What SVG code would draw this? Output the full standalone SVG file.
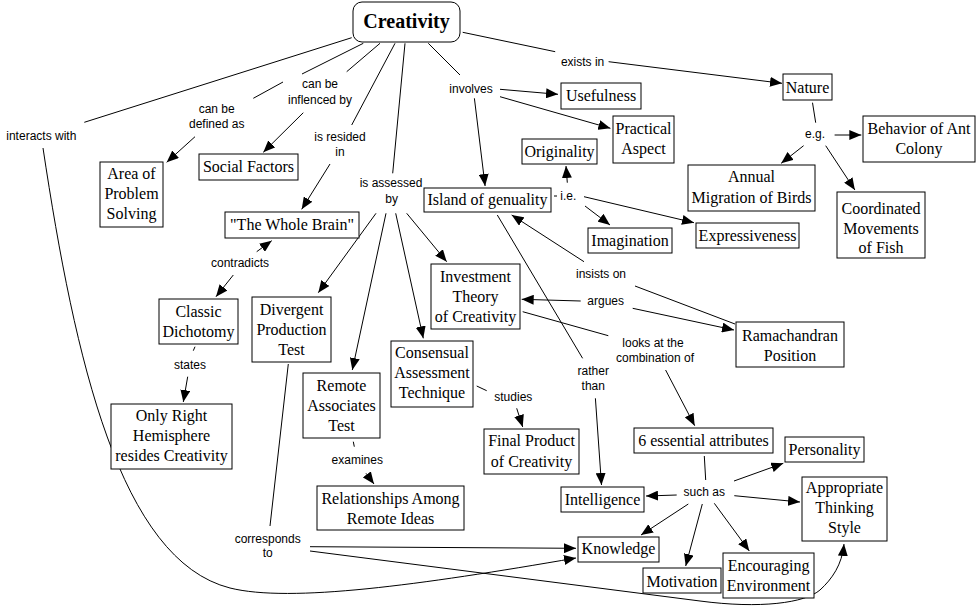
<svg xmlns="http://www.w3.org/2000/svg" width="978" height="608" viewBox="0 0 978 608">
<style>
.n rect{fill:#fff;stroke:#000;stroke-width:1}
.n text{font-family:"Liberation Serif","Times New Roman",serif;font-size:16px;text-anchor:middle;fill:#000}
.l{font-family:"Liberation Sans",Arial,sans-serif;font-size:12px;text-anchor:middle;fill:#000}
#conn path,#conn line{stroke:#000;stroke-width:1;fill:none}
.a{marker-end:url(#ah)}
</style>
<defs>
<marker id="ah" markerUnits="userSpaceOnUse" markerWidth="13" markerHeight="10" refX="12" refY="5" orient="auto">
<path d="M0,0 L12,5 L0,10 z" fill="#000"/>
</marker>
</defs>
<rect width="978" height="608" fill="#fff"/>
<g id="conn">
<line x1="351.7" y1="37.7" x2="84.3" y2="122.3"/>
<path class="a" d="M43,148 C75,360 120,560 230,588 C290,603 420,585 576,558"/>
<line x1="363.3" y1="43.3" x2="302" y2="74"/>
<line x1="283" y1="82" x2="253.3" y2="98.3"/>
<line class="a" x1="195" y1="136.7" x2="166.7" y2="162.3"/>
<line x1="380" y1="43.3" x2="346.7" y2="71.7"/>
<line class="a" x1="303.3" y1="112.7" x2="263.3" y2="152.3"/>
<line x1="395" y1="43.3" x2="351.7" y2="125"/>
<line class="a" x1="330" y1="164" x2="301.7" y2="209.3"/>
<line x1="405" y1="43.3" x2="392.7" y2="173.3"/>
<line class="a" x1="376" y1="213.3" x2="318.3" y2="292.7"/>
<line class="a" x1="386" y1="213.3" x2="352.3" y2="370"/>
<line class="a" x1="395.7" y1="213.3" x2="423.3" y2="338.3"/>
<line class="a" x1="406.7" y1="213.3" x2="446.7" y2="261.7"/>
<line x1="428.3" y1="43.3" x2="460" y2="75"/>
<line class="a" x1="474.4" y1="98.3" x2="485.1" y2="186"/>
<line class="a" x1="500" y1="89.3" x2="558" y2="94.3"/>
<line class="a" x1="500" y1="96.7" x2="610.4" y2="128.3"/>
<line x1="462.7" y1="32.3" x2="555.2" y2="51.7"/>
<line class="a" x1="608.6" y1="61.7" x2="782" y2="83.3"/>
<line x1="812.5" y1="102.7" x2="815.7" y2="122.7"/>
<line class="a" x1="834.6" y1="135" x2="861.3" y2="135"/>
<line class="a" x1="803.6" y1="145.7" x2="781.2" y2="163.3"/>
<line class="a" x1="825.7" y1="145.7" x2="854.9" y2="190"/>
<line x1="554" y1="196" x2="557" y2="196"/>
<line class="a" x1="567.3" y1="182.7" x2="566" y2="166"/>
<line class="a" x1="585" y1="206" x2="610" y2="225"/>
<line class="a" x1="584" y1="196.7" x2="694" y2="222.7"/>
<line x1="735" y1="324" x2="635" y2="286"/>
<line class="a" x1="584" y1="261.7" x2="511.7" y2="215"/>
<line class="a" x1="580.7" y1="301" x2="521.7" y2="299.3"/>
<line class="a" x1="632.7" y1="308.3" x2="734" y2="330"/>
<line x1="522.7" y1="311.7" x2="608.3" y2="335.7"/>
<line class="a" x1="665.6" y1="370" x2="694.7" y2="425.7"/>
<line x1="497.3" y1="215" x2="582.6" y2="358.3"/>
<line class="a" x1="595.4" y1="398.3" x2="601.5" y2="485"/>
<line class="a" x1="256.7" y1="251.7" x2="271.7" y2="240.7"/>
<line class="a" x1="233.3" y1="275" x2="216" y2="296.7"/>
<line x1="195" y1="346.7" x2="193.3" y2="350.7"/>
<line class="a" x1="187.7" y1="376.7" x2="183.3" y2="402"/>
<line x1="476.7" y1="386" x2="486.7" y2="390.7"/>
<line class="a" x1="516.7" y1="408.3" x2="522.7" y2="427"/>
<line x1="353.3" y1="441.7" x2="354.3" y2="446.7"/>
<line class="a" x1="366" y1="473.3" x2="374" y2="484"/>
<line x1="288.3" y1="364" x2="270" y2="526"/>
<line class="a" x1="310" y1="546.7" x2="576" y2="548.3"/>
<path class="a" d="M310,551 L700,601 C760,609 805,603 820,590 C832,579 842,565 844,544"/>
<line x1="704.3" y1="456" x2="705.7" y2="480"/>
<line class="a" x1="734" y1="481" x2="783.3" y2="463.3"/>
<line class="a" x1="734.3" y1="495.7" x2="800" y2="502"/>
<line class="a" x1="676.7" y1="495" x2="646" y2="496"/>
<line class="a" x1="688.3" y1="504" x2="641" y2="535"/>
<line class="a" x1="702.3" y1="504" x2="685.7" y2="566"/>
<line class="a" x1="714.3" y1="503.3" x2="749.3" y2="551"/>
</g>
<g id="labels">
<text class="l" x="41.3" y="140">interacts with</text>
<text class="l" x="216.7" y="113">can be</text>
<text class="l" x="216.7" y="128">defined as</text>
<text class="l" x="320" y="88">can be</text>
<text class="l" x="320" y="104">inflenced by</text>
<text class="l" x="340" y="141">is resided</text>
<text class="l" x="340" y="156">in</text>
<text class="l" x="391" y="187">is assessed</text>
<text class="l" x="391.7" y="203">by</text>
<text class="l" x="471" y="93">involves</text>
<text class="l" x="582.6" y="66">exists in</text>
<text class="l" x="815" y="137.5">e.g.</text>
<text class="l" x="568.3" y="200">i.e.</text>
<text class="l" x="601" y="278">insists on</text>
<text class="l" x="605.7" y="305">argues</text>
<text class="l" x="653" y="347">looks at the</text>
<text class="l" x="655" y="362">combination of</text>
<text class="l" x="593.3" y="375">rather</text>
<text class="l" x="593.3" y="390">than</text>
<text class="l" x="240" y="267">contradicts</text>
<text class="l" x="190" y="368.5">states</text>
<text class="l" x="513.3" y="401">studies</text>
<text class="l" x="357.3" y="464">examines</text>
<text class="l" x="267.7" y="542.5">corresponds</text>
<text class="l" x="267.7" y="557">to</text>
<text class="l" x="704.3" y="496">such as</text>
</g>
<g id="creativity" class="n"><rect x="353" y="2" width="107" height="40" rx="9"/><text x="406.5" y="28" style="font-weight:bold;font-size:20px">Creativity</text></g>
<g id="area" class="n"><rect x="100" y="162" width="63" height="65"/><text x="131.5" y="179">Area of</text><text x="131.5" y="199">Problem</text><text x="131.5" y="219">Solving</text></g>
<g id="social" class="n"><rect x="199" y="154" width="99" height="26"/><text x="248.5" y="172">Social Factors</text></g>
<g id="wholebrain" class="n"><rect x="225" y="212" width="134" height="26"/><text x="292" y="230">"The Whole Brain"</text></g>
<g id="island" class="n"><rect x="424" y="188" width="127" height="24"/><text x="487.5" y="205">Island of genuality</text></g>
<g id="usefulness" class="n"><rect x="561" y="83" width="80" height="26"/><text x="601" y="101">Usefulness</text></g>
<g id="practical" class="n"><rect x="613" y="116" width="61" height="47"/><text x="643.5" y="133.5">Practical</text><text x="643.5" y="153.5">Aspect</text></g>
<g id="originality" class="n"><rect x="522" y="139" width="75" height="25"/><text x="559.5" y="156.5">Originality</text></g>
<g id="nature" class="n"><rect x="783" y="74" width="49" height="26"/><text x="807.5" y="92.5">Nature</text></g>
<g id="ant" class="n"><rect x="863" y="116" width="112" height="46"/><text x="919" y="133.5">Behavior of Ant</text><text x="919" y="153.5">Colony</text></g>
<g id="birds" class="n"><rect x="688" y="165" width="127" height="46"/><text x="751.5" y="182">Annual</text><text x="751.5" y="203">Migration of Birds</text></g>
<g id="fish" class="n"><rect x="837" y="192" width="88" height="66"/><text x="881" y="214">Coordinated</text><text x="881" y="234">Movements</text><text x="881" y="253">of Fish</text></g>
<g id="expressiveness" class="n"><rect x="696" y="223" width="103" height="25"/><text x="747.5" y="240.5">Expressiveness</text></g>
<g id="imagination" class="n"><rect x="588" y="228" width="84" height="25"/><text x="630" y="245.5">Imagination</text></g>
<g id="investment" class="n"><rect x="431" y="264" width="89" height="65"/><text x="475.5" y="281.5">Investment</text><text x="475.5" y="301.5">Theory</text><text x="475.5" y="321.5">of Creativity</text></g>
<g id="divergent" class="n"><rect x="252" y="297" width="79" height="65"/><text x="291.5" y="314.5">Divergent</text><text x="291.5" y="334.5">Production</text><text x="291.5" y="354.5">Test</text></g>
<g id="classic" class="n"><rect x="159" y="299" width="79" height="45"/><text x="198.5" y="316.5">Classic</text><text x="198.5" y="336.5">Dichotomy</text></g>
<g id="onlyright" class="n"><rect x="111" y="404" width="121" height="65"/><text x="171.5" y="421">Only Right</text><text x="171.5" y="441">Hemisphere</text><text x="171.5" y="461">resides Creativity</text></g>
<g id="remote" class="n"><rect x="303" y="373" width="77" height="65"/><text x="341.5" y="391">Remote</text><text x="341.5" y="411">Associates</text><text x="341.5" y="431">Test</text></g>
<g id="consensual" class="n"><rect x="391" y="341" width="82" height="66"/><text x="432" y="358">Consensual</text><text x="432" y="378">Assessment</text><text x="432" y="398">Technique</text></g>
<g id="ramachandran" class="n"><rect x="736" y="322" width="108" height="45"/><text x="790" y="340.5">Ramachandran</text><text x="790" y="360.5">Position</text></g>
<g id="finalproduct" class="n"><rect x="484" y="429" width="95" height="45"/><text x="531.5" y="446">Final Product</text><text x="531.5" y="467">of Creativity</text></g>
<g id="essential" class="n"><rect x="634" y="428" width="139" height="25"/><text x="703.5" y="446">6 essential attributes</text></g>
<g id="personality" class="n"><rect x="785" y="437" width="79" height="25"/><text x="824.5" y="455">Personality</text></g>
<g id="intelligence" class="n"><rect x="561" y="487" width="83" height="25"/><text x="602.5" y="505">Intelligence</text></g>
<g id="appropriate" class="n"><rect x="802" y="477" width="85" height="64"/><text x="844.5" y="493">Appropriate</text><text x="844.5" y="513">Thinking</text><text x="844.5" y="533">Style</text></g>
<g id="knowledge" class="n"><rect x="578" y="537" width="81" height="25"/><text x="618.5" y="554">Knowledge</text></g>
<g id="motivation" class="n"><rect x="643" y="568" width="78" height="25"/><text x="682" y="586.5">Motivation</text></g>
<g id="encouraging" class="n"><rect x="723" y="553" width="91" height="45"/><text x="768.5" y="571">Encouraging</text><text x="768.5" y="591">Environment</text></g>
<g id="relationships" class="n"><rect x="317" y="486" width="147" height="44"/><text x="390.5" y="504">Relationships Among</text><text x="390.5" y="524">Remote Ideas</text></g>
</svg>
